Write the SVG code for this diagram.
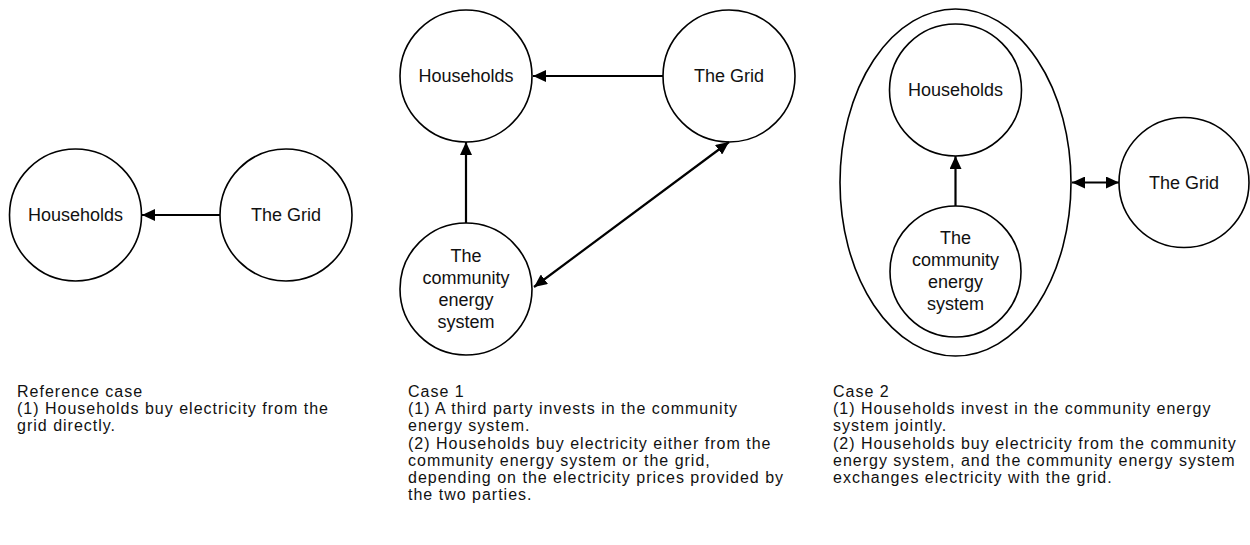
<svg xmlns="http://www.w3.org/2000/svg" width="1250" height="545" viewBox="0 0 1250 545">
<style>
.n{fill:#fff;stroke:#000;stroke-width:1.6}
.t{font-family:"Liberation Sans",Arial,sans-serif;font-size:18px;fill:#111;text-anchor:middle}
.d{font-family:"Liberation Sans",Arial,sans-serif;font-size:16px;letter-spacing:1px;fill:#111}
.c{stroke:#000;stroke-width:2.2;fill:none}
</style>
<defs>
<marker id="ah" viewBox="0 0 13 12" refX="13" refY="6" markerWidth="13" markerHeight="12" markerUnits="userSpaceOnUse" orient="auto-start-reverse">
<path d="M0,0 L13,6 L0,12 z" fill="#000"/>
</marker>
</defs>
<rect width="1250" height="545" fill="#fff"/>
<g id="case2-boundary"><ellipse class="n" cx="955.5" cy="182.5" rx="115.5" ry="173.5"/></g>
<g id="ref-households"><circle class="n" cx="75.5" cy="215" r="66"/><text class="t" x="75.5" y="221">Households</text></g>
<g id="ref-grid"><circle class="n" cx="286" cy="215" r="66"/><text class="t" x="286" y="221">The Grid</text></g>
<g id="c1-households"><circle class="n" cx="466" cy="76" r="66"/><text class="t" x="466" y="82">Households</text></g>
<g id="c1-grid"><circle class="n" cx="729" cy="76" r="66"/><text class="t" x="729" y="82">The Grid</text></g>
<g id="c1-ces"><circle class="n" cx="466" cy="289" r="66"/><text class="t" x="466"><tspan x="466" y="262">The</tspan><tspan x="466" y="284">community</tspan><tspan x="466" y="306">energy</tspan><tspan x="466" y="328">system</tspan></text></g>
<g id="c2-households"><circle class="n" cx="955.5" cy="90" r="66"/><text class="t" x="955.5" y="96">Households</text></g>
<g id="c2-ces"><circle class="n" cx="955.5" cy="271.5" r="65.5"/><text class="t" x="955.5"><tspan x="955.5" y="244">The</tspan><tspan x="955.5" y="266">community</tspan><tspan x="955.5" y="288">energy</tspan><tspan x="955.5" y="310">system</tspan></text></g>
<g id="c2-grid"><circle class="n" cx="1184" cy="182.5" r="65"/><text class="t" x="1184" y="188.5">The Grid</text></g>
<g id="connectors">
<line class="c" x1="220" y1="215" x2="142" y2="215" marker-end="url(#ah)"/>
<line class="c" x1="663" y1="76" x2="533" y2="76" marker-end="url(#ah)"/>
<line class="c" x1="466" y1="223" x2="466" y2="142" marker-end="url(#ah)"/>
<line class="c" x1="534" y1="287" x2="729" y2="142" marker-start="url(#ah)" marker-end="url(#ah)"/>
<line class="c" x1="955.5" y1="206" x2="955.5" y2="156" marker-end="url(#ah)"/>
<line class="c" x1="1072" y1="182.5" x2="1119" y2="182.5" marker-start="url(#ah)" marker-end="url(#ah)"/>
</g>
<g id="desc-ref"><text class="d"><tspan x="17" y="397">Reference case</tspan><tspan x="17" y="414.2">(1) Households buy electricity from the</tspan><tspan x="17" y="431.4">grid directly.</tspan></text></g>
<g id="desc-c1"><text class="d"><tspan x="408" y="397">Case 1</tspan><tspan x="408" y="414.2">(1) A third party invests in the community</tspan><tspan x="408" y="431.4">energy system.</tspan><tspan x="408" y="448.6">(2) Households buy electricity either from the</tspan><tspan x="408" y="465.8">community energy system or the grid,</tspan><tspan x="408" y="483">depending on the electricity prices provided by</tspan><tspan x="408" y="500.2">the two parties.</tspan></text></g>
<g id="desc-c2"><text class="d"><tspan x="833" y="397">Case 2</tspan><tspan x="833" y="414.2">(1) Households invest in the community energy</tspan><tspan x="833" y="431.4">system jointly.</tspan><tspan x="833" y="448.6">(2) Households buy electricity from the community</tspan><tspan x="833" y="465.8">energy system, and the community energy system</tspan><tspan x="833" y="483">exchanges electricity with the grid.</tspan></text></g>
</svg>
